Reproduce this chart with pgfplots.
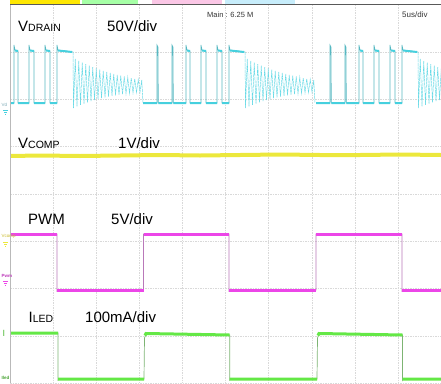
\documentclass[border=0pt]{standalone}
\usepackage{fontspec}
\setmainfont{Liberation Sans}
\usepackage{pgfplots}
\usepackage{pgfplotstable}
\pgfplotsset{compat=1.18}
\definecolor{cyanT}{RGB}{70,208,222}
\definecolor{cyanR}{RGB}{105,218,230}
\definecolor{cyanE}{RGB}{125,170,182}
\definecolor{magT}{RGB}{236,70,232}
\definecolor{magE}{RGB}{185,120,185}
\definecolor{grnT}{RGB}{100,232,70}
\definecolor{grnE}{RGB}{125,180,115}
\definecolor{yelT}{RGB}{236,232,60}
\definecolor{yelD}{RGB}{200,185,40}

% one period of V_DRAIN (x relative to the PWM rising edge, y in screen px)
\pgfplotstableread{
x y
0 103
14 103
14 45
15 47
15.3 103
29 103
29 45
30 47
30.3 103
43 103
43 45
44 50
47 51
47 103
58 103
58 45
59 50
63 51
63 103
74 103
74 45
75 50
79 51
79 103
86 103
86 45
87 50
95 51
101 52
102 52
}\vd

\pgfplotstableread{
x y
102 52
102.5 108.0
104.25 59.0
106 106.4
107.75 60.8
109.5 104.9
111.25 62.6
113 103.6
114.75 64.1
116.5 102.3
118.25 65.7
120 101.2
121.75 67.2
123.5 100.0
125.25 68.4
127 99.1
128.75 69.7
130.5 98.2
132.25 70.8
134 97.4
135.75 72.0
137.5 96.6
139.25 73.0
141 95.9
142.75 74.0
144.5 95.3
146.25 74.8
148 94.7
149.75 75.7
151.5 94.2
153.25 76.5
155 93.7
156.75 77.3
158.5 93.3
160.25 78.0
162 92.8
163.75 78.7
165.5 92.5
167.25 79.4
169 92.2
170.75 80.0
172 103
}\vdr

\pgfplotstableread{
x y
0 103
14 103
14 nan
15.3 103
29 103
29 nan
30.3 103
43 103
43 nan
44 50.5
47 51
47 nan
47 103
58 103
58 nan
59 50.5
63 51
63 nan
63 103
74 103
74 nan
75 50.5
79 51
79 nan
79 103
86 103
86 nan
87 50.5
101 52
101 nan
}\vdl

\pgfplotstableread{
x y
10 234
57 234
57 291
58 290
143.5 290
143.5 234
229 234
229 291
230 290
316 290
316 234
402 234
402 291
403 290
441 290
}\pwm

\pgfplotstableread{
x y
10 234
57 234
57 nan
57 290
143.5 290
143.5 nan
143.5 234
229 234
229 nan
229 290
316 290
316 nan
316 234
402 234
402 nan
402 290
441 290
}\pwml

\pgfplotstableread{
x y
10 333
58 333
58 380
59 379
144 379
144.5 338
146 334
229.7 335
229.7 380
230.5 379
317 379
317.5 338
319 334
402.5 335
402.5 380
403 379
441 379
}\iled

\pgfplotstableread{
x y
10 333
58 333
58 nan
58 379
144 379
144 nan
145 335.5
146 333.5
229.7 335
229.7 nan
229.7 379
317 379
317 nan
318 335.5
319 333.5
402.5 335
402.5 nan
402.5 379
441 379
}\iledl

\pgfplotstableread{
x y
10 156
40 155.5
80 156
120 155.5
160 155
200 155.5
240 155
280 154.5
320 155
360 155
400 154.5
441 155
}\vcomp

\begin{document}
\begin{tikzpicture}
\begin{axis}[
  scale only axis, width=431pt, height=378.5pt,
  xmin=10, xmax=441, ymin=4.5, ymax=383, y dir=reverse,
  axis line style={draw=none},
  xtick={10,53.1,96.2,139.3,182.4,225.5,268.6,311.7,354.8,397.9,441},
  ytick={4.5,51.8,99.1,146.4,193.75,241.1,288.4,335.7,383},
  xticklabels={}, yticklabels={},
  major tick length=0pt,
  grid=major,
  grid style={gray!30, line width=0.4pt, dash pattern=on 1.5pt off 1pt},
  clip mode=individual,
  unbounded coords=jump,
]
% V_COMP
\addplot[yelT, line width=4pt] table[x=x,y=y]{\vcomp};
% PWM
\addplot[magE, line width=0.7pt] table[x=x,y=y]{\pwm};
\addplot[magT, line width=3pt] table[x=x,y=y]{\pwml};
% I_LED
\addplot[grnE, line width=0.7pt] table[x=x,y=y]{\iled};
\addplot[grnT, line width=3pt] table[x=x,y=y]{\iledl};
% V_DRAIN
\pgfplotsinvokeforeach{-29,143,316}{
  \addplot[cyanR, line width=0.5pt, dash pattern=on 3pt off 0.6pt] table[x expr={\thisrow{x}+(#1)}, y=y]{\vdr};
  \addplot[cyanT!70!gray, line width=0.6pt] table[x expr={\thisrow{x}+(#1)}, y=y]{\vd};
  \addplot[cyanT, line width=2pt] table[x expr={\thisrow{x}+(#1)}, y=y]{\vdl};
}

% frame
\draw[gray!55, line width=1.3pt] (axis cs:10.6,3.8) -- (axis cs:10.6,383);
\draw[gray!70!black, line width=0.5pt] (axis cs:10,4.2) -- (axis cs:441,4.2);
% channel boxes on top
\fill[yellow!90!orange] (axis cs:10,0) rectangle (axis cs:80,3.6);
\fill[green!35] (axis cs:82,0) rectangle (axis cs:138,3.6);
\fill[magenta!22] (axis cs:152,0) rectangle (axis cs:222,3.6);
\fill[cyan!22] (axis cs:225,0) rectangle (axis cs:295,3.6);

% labels
\node[anchor=base west, inner sep=0pt] at (axis cs:18,31.7)
  {\fontsize{15}{18}\selectfont V\fontsize{10.5}{12}\selectfont DRAIN};
\node[anchor=base west, inner sep=0pt] at (axis cs:107,31.7)
  {\fontsize{15}{18}\selectfont 50V/div};
\node[anchor=base west, inner sep=0pt] at (axis cs:18,148)
  {\fontsize{15}{18}\selectfont V\fontsize{10.5}{12}\selectfont COMP};
\node[anchor=base west, inner sep=0pt] at (axis cs:118,148)
  {\fontsize{15}{18}\selectfont 1V/div};
\node[anchor=base west, inner sep=0pt] at (axis cs:28,224)
  {\fontsize{15}{18}\selectfont PWM};
\node[anchor=base west, inner sep=0pt] at (axis cs:111,224)
  {\fontsize{15}{18}\selectfont 5V/div};
\node[anchor=base west, inner sep=0pt] at (axis cs:28.5,322)
  {\fontsize{15}{18}\selectfont I\fontsize{10.5}{12}\selectfont LED};
\node[anchor=base west, inner sep=0pt] at (axis cs:85,322)
  {\fontsize{15}{18}\selectfont 100mA/div};
\node[anchor=base west, inner sep=0pt, text=black!80] at (axis cs:207,17)
  {\fontsize{7.5}{9}\selectfont Main : 6.25 M};
\node[anchor=base west, inner sep=0pt, text=black!80] at (axis cs:402,17.5)
  {\fontsize{8}{9}\selectfont 5us/div};

% channel markers at the left edge
\node[anchor=base west, inner sep=0pt, text=cyanE] at (axis cs:1.5,106)
  {\fontsize{4.5}{5}\selectfont Vd};
\draw[cyanT, line width=0.4pt] (axis cs:3,110)--(axis cs:8,110)
  (axis cs:4,112)--(axis cs:7,112) (axis cs:5,114)--(axis cs:6,114);
\node[anchor=base west, inner sep=0pt, text=yelD] at (axis cs:1.5,237)
  {\fontsize{4.5}{5}\selectfont Vcomp};
\draw[yelT, line width=0.4pt] (axis cs:3,242)--(axis cs:8,242)
  (axis cs:4,244)--(axis cs:7,244) (axis cs:5,246)--(axis cs:6,246);
\node[anchor=base west, inner sep=0pt, text=magT!80!black] at (axis cs:1.5,277)
  {\fontsize{4.5}{5}\selectfont\bfseries Pwm};
\draw[magT, line width=0.4pt] (axis cs:3,281)--(axis cs:8,281)
  (axis cs:4,283)--(axis cs:7,283) (axis cs:5,285)--(axis cs:6,285);
\node[anchor=base west, inner sep=0pt, text=grnT!80!black] at (axis cs:2.5,336)
  {\fontsize{9}{10}\selectfont\rmfamily I};
\node[anchor=base west, inner sep=0pt, text=grnT!70!black] at (axis cs:1.5,379)
  {\fontsize{4.5}{5}\selectfont\bfseries Iled};
\end{axis}
\pgfresetboundingbox
\path[use as bounding box] (-10pt,0pt) rectangle (431pt,383pt);
\end{tikzpicture}
\end{document}
